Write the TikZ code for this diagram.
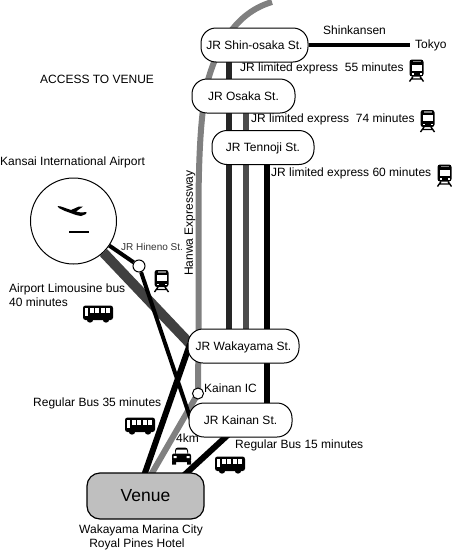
\documentclass[tikz,border=0pt]{standalone}
\usepackage{fontspec}
\setmainfont{Liberation Sans}
\usetikzlibrary{backgrounds}
\tikzset{
  x=1pt,y=-1pt,
  station/.style={draw=black,line width=1pt,fill=white,rounded corners=15pt,minimum width=#1,minimum height=34pt,inner sep=0pt,text height=9pt,text depth=1pt,font=\fontsize{12}{14}\selectfont},
  lbl/.style={inner sep=0pt,anchor=west,text height=9pt,text depth=1.5pt,font=\fontsize{12}{14}\selectfont},
  lblc/.style={lbl,anchor=center},
  dot/.style={circle,draw=black,line width=1pt,fill=white,minimum size=#1,inner sep=0pt},
  rail/.style={line width=5.4pt,draw=#1},
  pics/train/.style={code={
    \fill[black,rounded corners=2.5pt] (-7,-11) rectangle (7,6);
    \fill[white] (-5,-6) rectangle (5,0);
    \fill[gray] (-4,-10) rectangle (4,-8.5);
    \fill[white] (-5,2.5) rectangle (-3,4);
    \fill[white] (3,2.5) rectangle (5,4);
    \draw[line width=1.4pt,black] (-3.5,6) -- (-7,11) (3.5,6) -- (7,11) (-4.5,8.5) -- (4.5,8.5);
  }},
  pics/bus/.style={code={
    \fill[black,rounded corners=2.5pt] (-15,-8.5) rectangle (15,6);
    \fill[white] (-13,-6) rectangle (-10.5,1.5);
    \foreach \q in {-8.5,-3,2.5,8} {\fill[white] (\q,-6) rectangle ++(4,4.5);}
    \fill[black] (-8,5.5) circle (3.2) (8,5.5) circle (3.2);
  }},
  pics/car/.style={code={
    \fill[black,rounded corners=3pt] (-6.5,-8.5) rectangle (6.5,1);
    \fill[black,rounded corners=2pt] (-9.5,-2.5) rectangle (9.5,6);
    \fill[white] (-5,-6.5) -- (5,-6.5) -- (6,-2.5) -- (-6,-2.5) -- cycle;
    \fill[white] (-8,0) rectangle (-5,2) (5,0) rectangle (8,2);
    \fill[black] (-9.5,5) rectangle (-5.5,8.5) (5.5,5) rectangle (9.5,8.5);
  }},
  pics/plane/.style={code={
    \fill[black] (-15.5,-7) -- (-12,-6.5) -- (-2,-3) -- (6,-6.5) -- (10,-6.5) -- (3,-1.5) -- (8,-0.5) -- (13.5,-1) -- (13,1) -- (8,3) -- (3,2) -- (-8,-2) -- (-14,-5) -- cycle;
  }}
}
\begin{document}
\begin{tikzpicture}
\useasboundingbox (0,0) rectangle (452,552);
% nodes
\node[station=107pt] (shin) at (254.5,45) {JR Shin-osaka St.};
\node[station=103pt] (osaka) at (243.5,96) {JR Osaka St.};
\node[station=102pt] (tennoji) at (263,147.5) {JR Tennoji St.};
\node[station=111pt] (waka) at (243.5,346) {JR Wakayama St.};
\node[station=103pt] (kainan) at (240.5,420) {JR Kainan St.};
\node[draw=black,line width=1.2pt,fill=black!25,rounded corners=13pt,minimum width=117pt,minimum height=46pt,inner sep=0pt,font=\fontsize{17.5}{20}\selectfont] (venue) at (145.5,496) {Venue};
\node[circle,draw=black,line width=1pt,fill=white,minimum size=86pt,inner sep=0pt] (airport) at (73.5,221) {};
\node[dot=12pt] (hineno) at (139,266) {};
\node[dot=11pt] (ic) at (198,393.5) {};
\coordinate (tokyoend) at (410,45);
\coordinate (xa) at (229,0);
\coordinate (xb) at (246,0);
\coordinate (xc) at (266.5,0);
\coordinate (exptop) at (272,2);
\coordinate (expmid) at (198.5,335);
\coordinate (vgray) at (148,480);
\coordinate (vblack) at (142.5,480);
\coordinate (vbus) at (180,479);
\coordinate (kbus) at (230,433);
\coordinate (khin) at (195,432);
\coordinate (wblack) at (190,344);
\coordinate (wlimo) at (193,347);
\begin{scope}[on background layer]
  \draw[rail=black!50,line width=6pt] (exptop) .. controls (238,12) and (219,42) .. (208,80) .. controls (201,110) and (199,150) .. (198.5,200) -- (expmid) -- (ic.center) -- (vgray);
  \draw[rail=black!85] (shin.center -| xa) -- (waka.center -| xa);
  \draw[rail=black!70] (osaka.center -| xb) -- (waka.center -| xb);
  \draw[rail=black,line width=6pt] (tennoji.center -| xc) -- (kainan.center -| xc);
  \draw[rail=black!75,line width=10pt] (airport) -- (wlimo);
  \draw[rail=black,line width=4pt] (airport) -- (hineno);
  \draw[rail=black,line width=4pt] (hineno) -- (khin);
  \draw[rail=black,line width=6pt] (wblack) -- (vblack);
  \draw[rail=black,line width=6pt] (kbus) -- (vbus);
  \draw[rail=black,line width=4pt] (shin) -- (tokyoend);
\end{scope}
% labels
\node[lbl] (access) at (40,80) {ACCESS TO VENUE};
\node[lbl] (kix) at (0,162) {Kansai International Airport};
\node[lbl,font=\fontsize{10}{12}\selectfont,text=black!80] (hinenot) at (121,247) {JR Hineno St.};
\node[lblc,rotate=90] (hanwa) at (189,223) {Hanwa Expressway};
\node[lbl] (limo1) at (9,289) {Airport Limousine bus};
\node[lbl] (limo2) at (9,303) {40 minutes};
\node[lbl] (bus35) at (33,403) {Regular Bus 35 minutes};
\node[lbl] (ict) at (204,389) {Kainan IC};
\node[lbl] (km) at (176,439) {4km};
\node[lbl] (bus15) at (235,445) {Regular Bus 15 minutes};
\node[lblc] (w1) at (141,530) {Wakayama Marina City};
\node[lblc] (w2) at (137,544) {Royal Pines Hotel};
\node[lbl] (shink) at (323,31) {Shinkansen};
\node[lbl] (tokyo) at (415,45) {Tokyo};
\node[lbl] (e55) at (240,68) {JR limited express\ \ 55 minutes};
\node[lbl] (e74) at (251,119) {JR limited express\ \ 74 minutes};
\node[lbl] (e60) at (271,173) {JR limited express 60 minutes};
% icons
\pic at (416.5,70.5) {train};
\pic at (427.5,121) {train};
\pic at (444.5,175.5) {train};
\pic at (161.5,281) {train};
\pic at (98,314) {bus};
\pic at (140,426) {bus};
\pic at (230,465) {bus};
\pic at (181.5,456) {car};
\pic at (73,213) {plane};
\draw[line width=1.5pt] (69,232) -- (89,232);
\end{tikzpicture}
\end{document}
